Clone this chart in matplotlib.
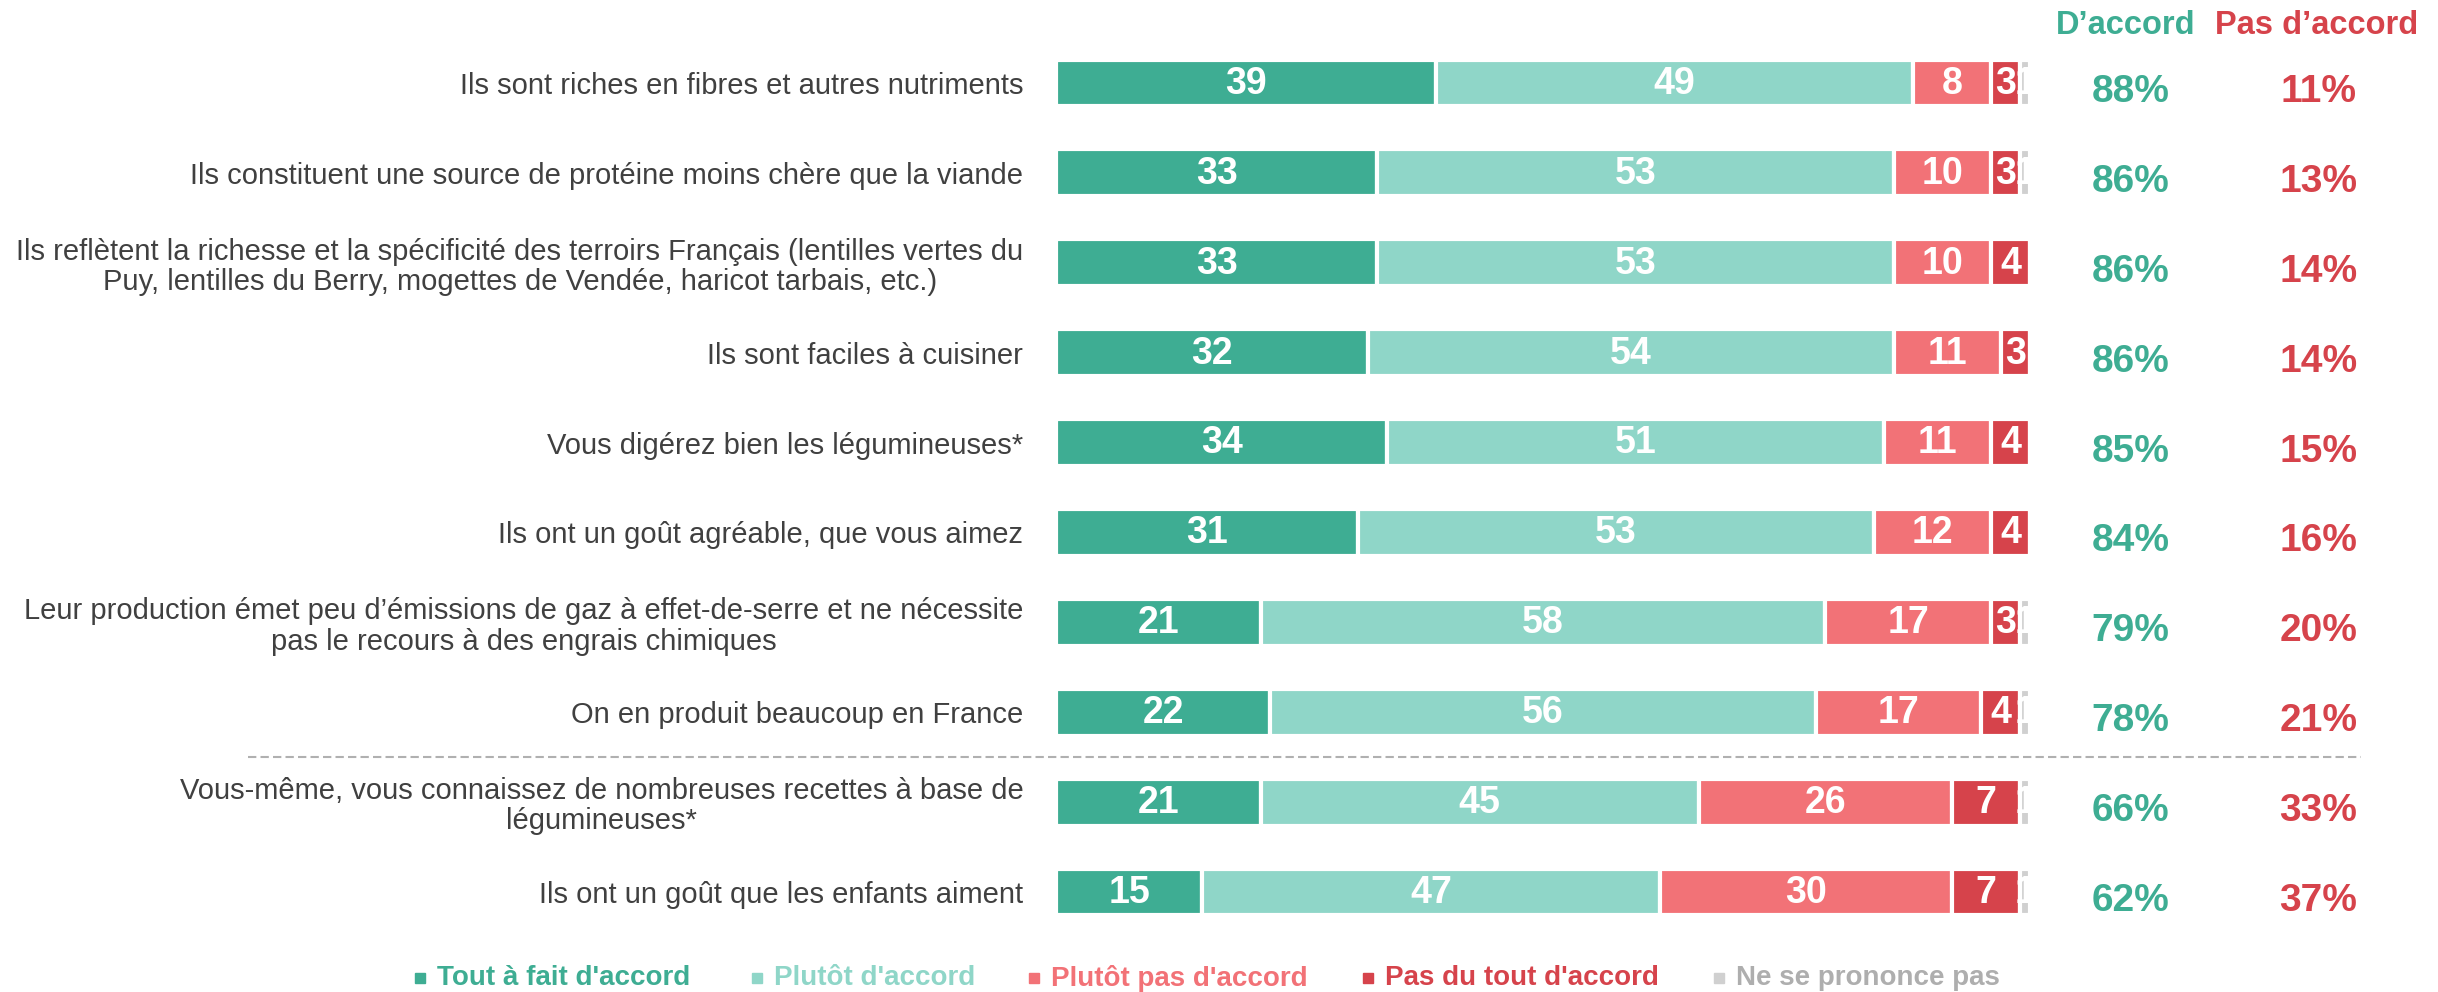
import matplotlib
matplotlib.use("Agg")
import matplotlib.pyplot as plt
from matplotlib.lines import Line2D
import numpy as np

plt.rcParams["font.family"] = ["Liberation Sans", "DejaVu Sans"]

# ── data ─────────────────────────────────────────────────────────────────────
statements = [
    "Ils sont riches en fibres et autres nutriments",
    "Ils constituent une source de protéine moins chère que la viande",
    "Ils reflètent la richesse et la spécificité des terroirs Français (lentilles vertes du\n"
    "Puy, lentilles du Berry, mogettes de Vendée, haricot tarbais, etc.)",
    "Ils sont faciles à cuisiner",
    "Vous digérez bien les légumineuses*",
    "Ils ont un goût agréable, que vous aimez",
    "Leur production émet peu d’émissions de gaz à effet-de-serre et ne nécessite\n"
    "pas le recours à des engrais chimiques",
    "On en produit beaucoup en France",
    "Vous-même, vous connaissez de nombreuses recettes à base de\nlégumineuses*",
    "Ils ont un goût que les enfants aiment",
]
tout_a_fait = [39, 33, 33, 32, 34, 31, 21, 22, 21, 15]
plutot_oui  = [49, 53, 53, 54, 51, 53, 58, 56, 45, 47]
plutot_non  = [8, 10, 10, 11, 11, 12, 17, 17, 26, 30]
pas_du_tout = [3, 3, 4, 3, 4, 4, 3, 4, 7, 7]
nsp         = [1, 1, 0, 0, 0, 0, 1, 1, 1, 1]
total_accord     = [88, 86, 86, 86, 85, 84, 79, 78, 66, 62]
total_pas_accord = [11, 13, 14, 14, 15, 16, 20, 21, 33, 37]

categories = ["Tout à fait d'accord", "Plutôt d'accord", "Plutôt pas d'accord",
              "Pas du tout d'accord", "Ne se prononce pas"]
colors = ["#3EAD93", "#8FD6C8", "#F27277", "#D6434B", "#D0D0D0"]
legend_text_colors = ["#3EAD93", "#8FD6C8", "#F27277", "#D6434B", "#AEAEAE"]

GREEN = "#3EAD93"
RED = "#D6434B"

W, H = 2438, 992
fig = plt.figure(figsize=(W / 100, H / 100), dpi=100)
ax = fig.add_axes([1056 / W, 1 - 937 / H, (W - 1056) / W, 899 / H])

series = [tout_a_fait, plutot_oui, plutot_non, pas_du_tout, nsp]
ys = np.arange(len(statements))
left = np.zeros(len(statements))
for vals, col in zip(series, colors):
    vals = np.array(vals, dtype=float)
    ax.barh(ys, vals, left=left, height=0.52, color=col,
            edgecolor="white", linewidth=3, zorder=2)
    for y, v, l in zip(ys, vals, left):
        if v > 0:
            ax.text(l + v / 2, y + 0.01, f"{v:.0f}", ha="center", va="center",
                    color="white", fontsize=27, fontweight="bold", zorder=3,
                    clip_on=False)
    left += vals

for y, a, d in zip(ys, total_accord, total_pas_accord):
    ax.text(110.3, y + 0.1, f"{a}%", ha="center", va="center",
            color=GREEN, fontsize=28, fontweight="bold")
    ax.text(129.6, y + 0.1, f"{d}%", ha="center", va="center",
            color=RED, fontsize=28, fontweight="bold")

ax.text(109.8, -0.64, "D’accord", ha="center", va="center",
        color=GREEN, fontsize=23.5, fontweight="bold", clip_on=False)
ax.text(129.4, -0.64, "Pas d’accord", ha="center", va="center",
        color=RED, fontsize=23.5, fontweight="bold", clip_on=False)

# separator between the two groups of statements
ax.plot([-83, 134], [7.5, 7.5], color="#B0B0B0", lw=1.5, ls=(0, (4, 2)),
        clip_on=False, zorder=1)

ax.set_xlim(0, (W - 1056) / 9.74)
ax.set_ylim(len(statements) - 0.5, -0.5)
ax.set_yticks(ys)
ax.set_yticklabels(statements, fontsize=21, color="#404040",
                   multialignment="center", linespacing=1.1)
ax.tick_params(left=False, bottom=False, labelbottom=False, pad=20)
for s in ax.spines.values():
    s.set_visible(False)

# legend, drawn by hand under the bars
legend_x = [420, 757, 1034, 1368, 1719]
for x, lab, col, tcol in zip(legend_x, categories, colors, legend_text_colors):
    fig.add_artist(Line2D([x / W], [1 - 978 / H], marker="s", markersize=7,
                          color=col, lw=0, transform=fig.transFigure))
    fig.text((x + 17) / W, 1 - 978 / H, lab, ha="left", va="center",
             color=tcol, fontsize=20, fontweight="bold")

fig.savefig("out.png", dpi=100)
